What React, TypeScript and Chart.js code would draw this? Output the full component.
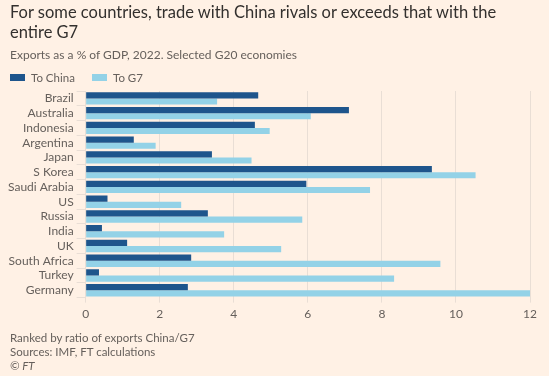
import React, { useEffect, useRef } from "react";
import { Chart, registerables } from "chart.js";

Chart.register(...registerables);

const categories = ["Brazil", "Australia", "Indonesia", "Argentina", "Japan", "S Korea", "Saudi Arabia", "US", "Russia", "India", "UK", "South Africa", "Turkey", "Germany"];
const toChina = [4.66, 7.11, 4.57, 1.3, 3.41, 9.35, 5.96, 0.59, 3.3, 0.44, 1.12, 2.85, 0.36, 2.76];
const toG7 = [3.55, 6.08, 4.97, 1.89, 4.48, 10.53, 7.68, 2.58, 5.85, 3.74, 5.28, 9.58, 8.33, 12.0];
const xTicks = [0, 2, 4, 6, 8, 10, 12];
const seriesNames = ["To China", "To G7"];
const seriesColors = ["#1E558C", "#93D2E7"];

const BG = "#FFF1E5";
const TEXT = "#66605C";
const FONT = "Lato, sans-serif";

export default function App() {
  const ref = useRef<HTMLCanvasElement | null>(null);
  useEffect(() => {
    document.body.style.margin = "0";
    document.body.style.background = BG;
    const chart = new Chart(ref.current!, {
      type: "bar",
      data: {
        labels: categories,
        datasets: [
          { label: seriesNames[0], data: toChina, backgroundColor: seriesColors[0], borderWidth: 0 },
          { label: seriesNames[1], data: toG7, backgroundColor: seriesColors[1], borderWidth: 0 },
        ],
      },
      options: {
        indexAxis: "y",
        animation: false,
        responsive: false,
        maintainAspectRatio: false,
        datasets: { bar: { barPercentage: 1, categoryPercentage: 0.84 } },
        layout: { padding: { top: 91, left: 5, right: 19, bottom: 51 } },
        plugins: {
          legend: { display: false },
          tooltip: { enabled: false },
        },
        scales: {
          x: {
            min: 0,
            max: 12,
            afterBuildTicks: (axis: any) => {
              axis.ticks = xTicks.map((v) => ({ value: v }));
            },
            grid: { color: "#E9DED5", tickLength: 5 },
            border: { display: false },
            ticks: { color: TEXT, font: { family: FONT, size: 12 }, padding: 4 },
          },
          y: {
            grid: { drawOnChartArea: false, color: "#E9DED5", tickLength: 9 },
            border: { display: false },
            ticks: { color: TEXT, font: { family: FONT, size: 12 }, padding: 3, autoSkip: false },
          },
        },
      },
    });
    return () => chart.destroy();
  }, []);

  const legendItem = (i: number, left: number) => (
    <div key={i} style={{ position: "absolute", left, top: 71, display: "flex", alignItems: "center", fontFamily: FONT, fontSize: 11.5, color: TEXT }}>
      <span style={{ display: "inline-block", width: 15, height: 7, background: seriesColors[i], marginRight: 6 }} />
      <span>{seriesNames[i]}</span>
    </div>
  );

  return (
    <div style={{ position: "relative", width: 549, height: 376, background: BG, overflow: "hidden" }}>
      <canvas ref={ref} width={549} height={376} style={{ position: "absolute", left: 0, top: 0 }} />
      <div style={{ position: "absolute", left: 10, top: 2, width: 490, fontFamily: FONT, fontSize: 16.5, lineHeight: "20px", color: "#33302E" }}>
        For some countries, trade with China rivals or exceeds that with the entire G7
      </div>
      <div style={{ position: "absolute", left: 10, top: 47, fontFamily: FONT, fontSize: 12, color: TEXT }}>
        Exports as a % of GDP, 2022. Selected G20 economies
      </div>
      {legendItem(0, 10)}
      {legendItem(1, 92)}
      <div style={{ position: "absolute", left: 10, top: 331, fontFamily: FONT, fontSize: 11.5, lineHeight: "14px", color: TEXT }}>
        <div>Ranked by ratio of exports China/G7</div>
        <div>Sources: IMF, FT calculations</div>
        <div style={{ fontStyle: "italic" }}>© FT</div>
      </div>
    </div>
  );
}
